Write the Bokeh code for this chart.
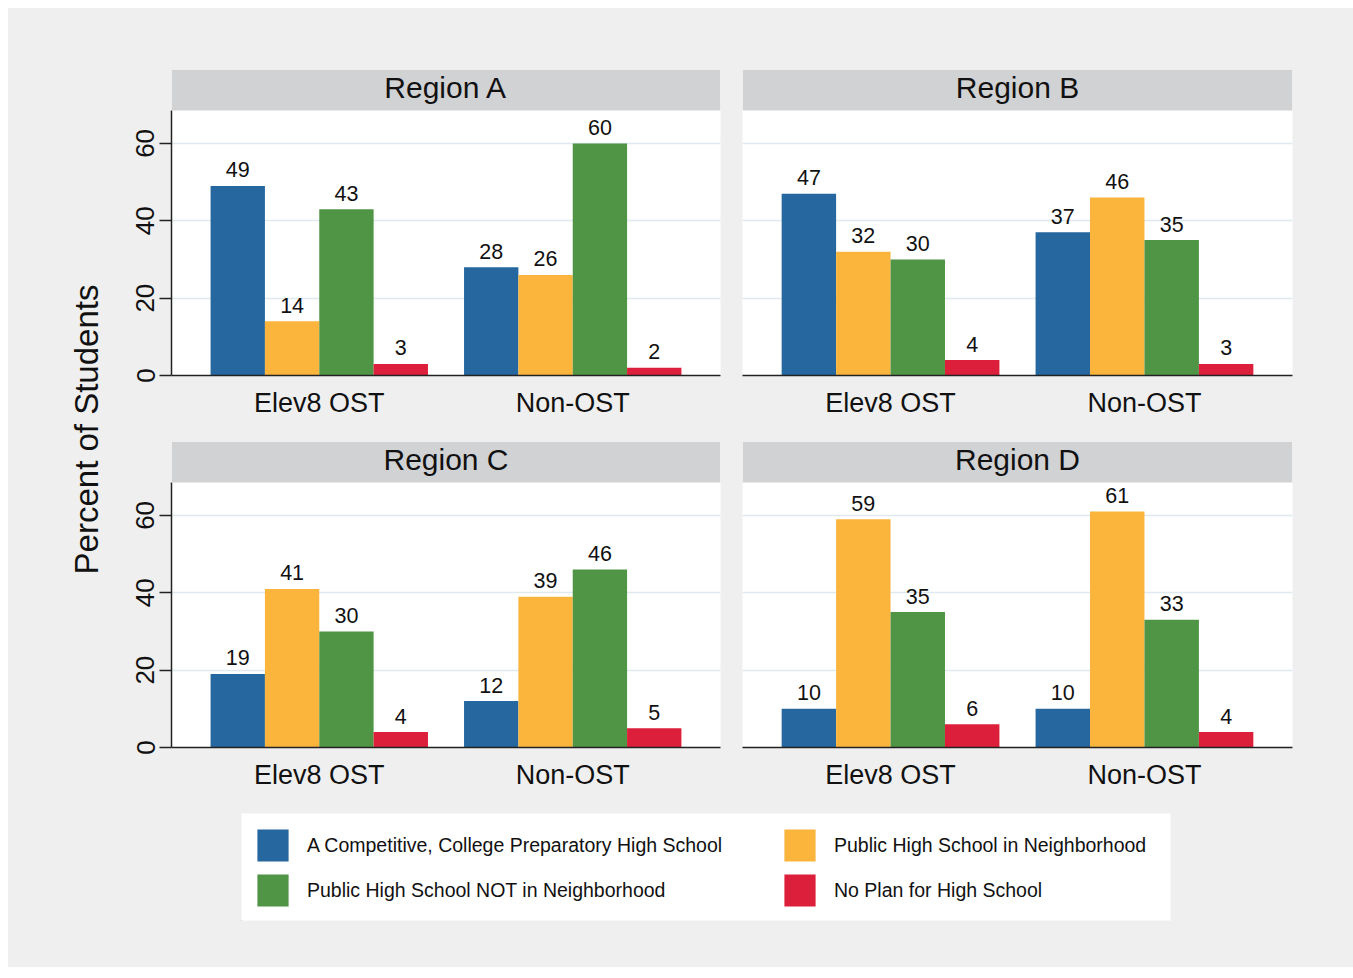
import math
from bokeh.plotting import figure
from bokeh.models import (FactorRange, Range1d, FixedTicker, BoxAnnotation, Label,
                          Legend, LegendItem, ColumnDataSource, Grid, Spacer)
from bokeh.transform import dodge
from bokeh.layouts import row, column
from bokeh.embed import file_html
from bokeh.resources import INLINE

# ---------------- data ----------------
groups = ["Elev8 OST", "Non-OST"]
regions = ["Region A", "Region B", "Region C", "Region D"]
series = [
    "A Competitive, College Preparatory High School",
    "Public High School in Neighborhood",
    "Public High School NOT in Neighborhood",
    "No Plan for High School",
]
competitive = [[49, 28], [47, 37], [19, 12], [10, 10]]
neighborhood = [[14, 26], [32, 46], [41, 39], [59, 61]]
not_neighborhood = [[43, 60], [30, 35], [30, 46], [35, 33]]
no_plan = [[3, 2], [4, 3], [4, 5], [6, 4]]
y_ticks = [0, 20, 40, 60]
y_label = "Percent of Students"

series_values = [competitive, neighborhood, not_neighborhood, no_plan]
colors = ["#25679e", "#fbb43c", "#509445", "#dc1f3a"]

# ---------------- style ----------------
FONT = "Liberation Sans"
BG = "#efefef"
BAND = "#d1d2d4"
GRID = "#dfe9ef"
INK = "#111111"
AX = "#222222"
BAND_BOTTOM = 68.5
Y_TOP = 79.1
BW = 0.2144


def make_panel(i, show_y, w, h, bl, br, bt, bb):
    xr = FactorRange(*groups, range_padding=0.083, range_padding_units="percent")
    yr = Range1d(0, Y_TOP)
    p = figure(x_range=xr, y_range=yr, width=w, height=h, output_backend="svg",
               toolbar_location=None, tools="", title=None,
               min_border_left=bl, min_border_right=br, min_border_top=bt, min_border_bottom=bb,
               y_axis_location="left" if show_y else None,
               background_fill_color="white", border_fill_color=BG, outline_line_color=None)
    for g in p.grid:
        g.visible = False
    p.add_layout(Grid(dimension=1, ticker=FixedTicker(ticks=y_ticks[1:]),
                      grid_line_color=GRID, grid_line_width=1.5))

    for s in range(4):
        vals = series_values[s][i]
        src = ColumnDataSource(dict(x=groups, top=vals, label=[str(v) for v in vals]))
        xt = dodge("x", (s - 1.5) * BW, range=xr)
        p.vbar(x=xt, top="top", width=BW, source=src, fill_color=colors[s], line_color=None)
        p.text(x=xt, y="top", text="label", source=src, text_align="center",
               text_baseline="alphabetic", y_offset=-16, text_font={"value": FONT},
               text_font_size="21.5px", text_color=INK)

    p.add_layout(BoxAnnotation(bottom=BAND_BOTTOM, fill_color=BAND, fill_alpha=1.0,
                               line_alpha=0))
    p.add_layout(Label(x=1.0, y=(BAND_BOTTOM + Y_TOP) / 2 + 0.6, text=regions[i],
                       text_align="center", text_baseline="middle", text_font=FONT,
                       text_font_size="30px", text_color=INK))

    xa = p.xaxis[0]
    xa.major_tick_line_color = None
    xa.major_tick_out = 0
    xa.major_tick_in = 0
    xa.axis_line_color = AX
    xa.axis_line_width = 1.5
    xa.major_label_text_font = FONT
    xa.major_label_text_font_size = "27px"
    xa.major_label_text_color = INK
    xa.major_label_standoff = 12

    if show_y:
        ya = p.yaxis[0]
        ya.ticker = FixedTicker(ticks=y_ticks)
        ya.bounds = (0, BAND_BOTTOM)
        ya.major_tick_out = 12
        ya.major_tick_in = 0
        ya.minor_tick_out = 0
        ya.minor_tick_in = 0
        ya.major_tick_line_color = AX
        ya.major_tick_line_width = 1.5
        ya.axis_line_color = AX
        ya.axis_line_width = 1.5
        ya.major_label_orientation = "vertical"
        ya.major_label_text_font = FONT
        ya.major_label_text_font_size = "26px"
        ya.major_label_text_color = INK
        ya.major_label_standoff = 5
    return p


pA = make_panel(0, True, 623, 417, 63, 11, 61, 50)
pB = make_panel(1, False, 622, 417, 11, 61, 61, 50)
pC = make_panel(2, True, 623, 372, 63, 11, 16, 50)
pD = make_panel(3, False, 622, 372, 11, 61, 16, 50)

# left strip with the shared y label
left = figure(width=100, height=789, output_backend="svg", toolbar_location=None, tools="",
              title=None, x_range=Range1d(0, 100), y_range=Range1d(0, 789),
              x_axis_location=None, y_axis_location=None,
              min_border_left=0, min_border_right=0, min_border_top=0, min_border_bottom=0,
              background_fill_color=BG, border_fill_color=BG, outline_line_color=None)
for g in left.grid:
    g.visible = False
left.add_layout(Label(x=78, y=368, text=y_label, angle=math.pi / 2, text_align="center",
                      text_baseline="middle", text_font=FONT, text_font_size="33px",
                      text_color=INK))

# legend strip
lf = figure(width=1345, height=170, output_backend="svg", toolbar_location=None, tools="",
            title=None, x_range=Range1d(0, 1), y_range=Range1d(0, 1),
            x_axis_location=None, y_axis_location=None,
            min_border_left=233, min_border_right=183, min_border_top=16, min_border_bottom=47,
            background_fill_color="white", border_fill_color=BG, outline_line_color=None)
for g in lf.grid:
    g.visible = False
# swatch renderers, placed outside the visible frame
rends = [lf.vbar(x=[-5], top=[-5], bottom=[-6], width=0.1, fill_color=colors[s], line_color=None)
         for s in range(4)]


def make_legend(idx, loc):
    return Legend(items=[LegendItem(label=series[k], renderers=[rends[k]]) for k in idx],
                  location=loc, orientation="vertical", padding=0, margin=0, spacing=5,
                  glyph_width=39, glyph_height=40, label_standoff=15,
                  label_text_font=FONT, label_text_font_size="19.5px",
                  label_text_color=INK, label_text_baseline="middle",
                  border_line_alpha=0, background_fill_alpha=0)


lf.add_layout(make_legend([0, 2], (12, 10)))
lf.add_layout(make_legend([1, 3], (539, 10)))

main = column(row(left, column(row(pA, pB), row(pC, pD))), lf,
              styles={"background-color": BG})
layout = column(Spacer(height=8), row(Spacer(width=8), main))

open("out.html", "w").write(file_html(layout, INLINE, title="Percent of Students"))
